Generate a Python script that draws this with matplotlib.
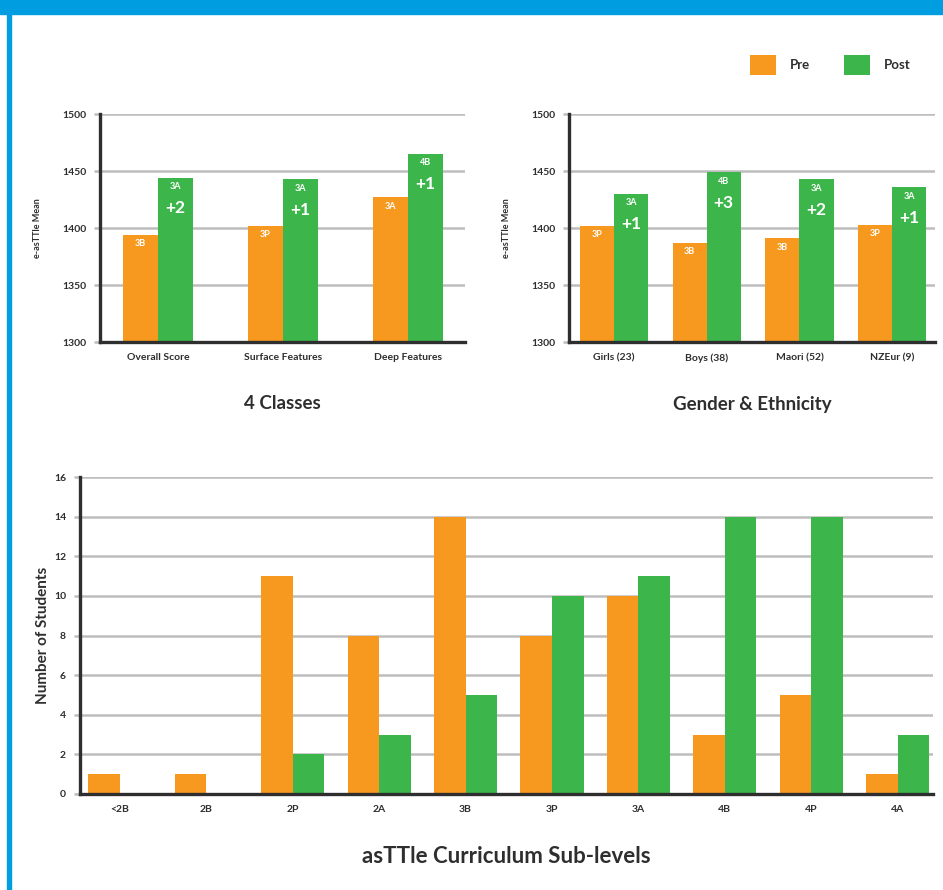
import numpy as np
import matplotlib.pyplot as plt
from matplotlib.patches import Rectangle

plt.rcParams['font.family'] = ['Lato', 'DejaVu Sans']
plt.rcParams['font.weight'] = 'bold'
plt.rcParams['axes.labelweight'] = 'bold'

PRE = '#F7991F'
POST = '#3CB54A'
GRID = '#BDBDBD'
DARK = '#2E2E2E'
BLUE = '#009DE0'

# 4 Classes
class_cats = ['Overall Score', 'Surface Features', 'Deep Features']
class_pre = [1394, 1402, 1427]
class_post = [1444, 1443, 1465]
class_pre_lvl = ['3B', '3P', '3A']
class_post_lvl = ['3A', '3A', '4B']
class_gain = ['+2', '+1', '+1']

# Gender & Ethnicity
group_cats = ['Girls (23)', 'Boys (38)', 'Maori (52)', 'NZEur (9)']
group_pre = [1402, 1387, 1391, 1403]
group_post = [1430, 1449, 1443, 1436]
group_pre_lvl = ['3P', '3B', '3B', '3P']
group_post_lvl = ['3A', '4B', '3A', '3A']
group_gain = ['+1', '+3', '+2', '+1']

# curriculum sub-level counts
levels = ['<2B', '2B', '2P', '2A', '3B', '3P', '3A', '4B', '4P', '4A']
n_pre = [1, 1, 11, 8, 14, 8, 10, 3, 5, 1]
n_post = [0, 0, 2, 3, 5, 10, 11, 14, 14, 3]


def style_axes(ax):
    for s in ['top', 'right']:
        ax.spines[s].set_visible(False)
    for s in ['left', 'bottom']:
        ax.spines[s].set_color(DARK)
        ax.spines[s].set_linewidth(2.4)
        ax.spines[s].set_zorder(4)
    ax.yaxis.grid(True, color=GRID, linewidth=1.8)
    ax.set_axisbelow(True)
    ax.tick_params(axis='y', length=4, width=1.8, color=GRID, labelsize=7.5,
                   labelcolor=DARK, pad=6)
    ax.tick_params(axis='x', length=0, labelsize=7.5, labelcolor=DARK, pad=8)


def score_chart(ax, cats, pre, post, pre_lvl, post_lvl, gain, width, xlim, title):
    x = np.arange(len(cats))
    b1 = ax.bar(x - width / 2, np.array(pre) - 1300, width, bottom=1300,
                color=PRE, zorder=3)
    b2 = ax.bar(x + width / 2, np.array(post) - 1300, width, bottom=1300,
                color=POST, zorder=3)
    for i in range(len(cats)):
        ax.annotate(pre_lvl[i], (x[i] - width / 2, pre[i]), xytext=(0, -6.5),
                    textcoords='offset points', ha='center', va='center',
                    color='white', fontsize=6.5, zorder=5)
        ax.annotate(post_lvl[i], (x[i] + width / 2, post[i]), xytext=(0, -6.5),
                    textcoords='offset points', ha='center', va='center',
                    color='white', fontsize=6.5, zorder=5)
        ax.annotate(gain[i], (x[i] + width / 2, post[i]), xytext=(0, -22),
                    textcoords='offset points', ha='center', va='center',
                    color='white', fontsize=12.5, zorder=5)
    ax.set_ylim(1300, 1500)
    ax.set_yticks([1300, 1350, 1400, 1450, 1500])
    ax.set_xlim(*xlim)
    ax.set_xticks(x)
    ax.set_xticklabels(cats)
    ax.set_ylabel('e-asTTle Mean', fontsize=6.5, color=DARK, labelpad=14)
    ax.set_xlabel(title, fontsize=13.5, color=DARK, labelpad=24)
    style_axes(ax)
    return b1, b2


fig = plt.figure(figsize=(9.43, 8.9), dpi=100)

ax1 = fig.add_axes([0.106, 0.6157, 0.387, 0.2562])
bars = score_chart(ax1, class_cats, class_pre, class_post, class_pre_lvl,
                   class_post_lvl, class_gain, 0.28, (-0.464, 2.456), '4 Classes')

ax2 = fig.add_axes([0.6034, 0.6157, 0.388, 0.2562])
score_chart(ax2, group_cats, group_pre, group_post, group_pre_lvl,
            group_post_lvl, group_gain, 0.367, (-0.485, 3.46), 'Gender & Ethnicity')

ax3 = fig.add_axes([0.0848, 0.1079, 0.9046, 0.3561])
x = np.arange(len(levels))
w = 0.365
ax3.bar(x - w / 2, n_pre, w, color=PRE, zorder=3)
ax3.bar(x + w / 2, n_post, w, color=POST, zorder=3)
ax3.set_ylim(0, 16)
ax3.set_yticks(range(0, 17, 2))
ax3.set_xlim(-0.463, 9.41)
ax3.set_xticks(x)
ax3.set_xticklabels(levels)
ax3.set_ylabel('Number of Students', fontsize=11, color=DARK, labelpad=3)
ax3.set_xlabel('asTTle Curriculum Sub-levels', fontsize=16, color=DARK, labelpad=23)
style_axes(ax3)

fig.legend(bars, ['Pre', 'Post'], loc='upper right', bbox_to_anchor=(0.978, 0.952),
           ncol=2, frameon=False, fontsize=9.5, handlelength=2.0, handleheight=2.0,
           columnspacing=2.6, handletextpad=1.0, labelcolor=DARK)

# page frame
fig.patches.append(Rectangle((0, 1 - 14 / 890), 1, 14 / 890, transform=fig.transFigure,
                             color=BLUE, zorder=0))
fig.patches.append(Rectangle((7 / 943, 0), 4 / 943, 1 - 14 / 890, transform=fig.transFigure,
                             color=BLUE, zorder=0))

fig.savefig('out.png', dpi=100)
